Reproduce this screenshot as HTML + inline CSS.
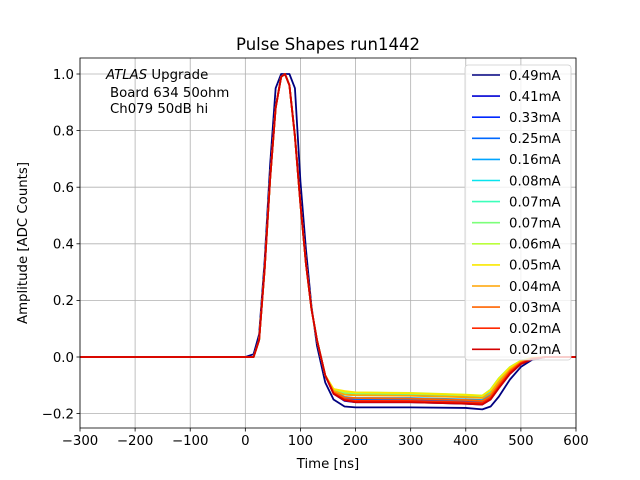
<!DOCTYPE html>
<html><head><meta charset="utf-8"><style>
body{margin:0;background:#fff}svg{display:block;font-family:"DejaVu Sans","Liberation Sans",sans-serif}
</style></head><body>
<svg id="c" width="640" height="480"></svg>
<script>
const times=[-300,0,15,25,35,45,55,65,72,80,90,100,110,120,130,145,160,180,200,300,400,430,445,460,480,500,520,545,600];
const labels=["0.49mA","0.41mA","0.33mA","0.25mA","0.16mA","0.08mA","0.07mA","0.07mA","0.06mA","0.05mA","0.04mA","0.03mA","0.02mA","0.02mA"];
const colors=["#000080","#0000d4","#0028ff","#0068ff","#00a4ff","#08e4ee","#3cffba","#7cff7a","#baff3c","#fae800","#ffa400","#ff6400","#ff2800","#d40000"];
const s0=[0,0,0.01,0.08,0.34,0.68,0.95,1.0,1.0,1.0,0.95,0.62,0.38,0.18,0.04,-0.09,-0.15,-0.175,-0.178,-0.178,-0.18,-0.185,-0.175,-0.14,-0.08,-0.035,-0.01,0,0];
const s1=[0,0,0.0,0.06,0.31,0.63,0.88,0.99,1.0,0.96,0.78,0.54,0.33,0.17,0.06,-0.065,-0.13,-0.155,-0.16,-0.16,-0.165,-0.168,-0.15,-0.11,-0.06,-0.025,-0.008,0,0];
const s2=[0,0,0.0,0.06,0.31,0.63,0.88,0.99,1.0,0.96,0.78,0.54,0.33,0.17,0.06,-0.065,-0.128,-0.15,-0.155,-0.155,-0.16,-0.163,-0.145,-0.105,-0.055,-0.022,-0.006,0,0];
const s3=[0,0,0.0,0.06,0.31,0.63,0.88,0.99,1.0,0.96,0.78,0.54,0.33,0.17,0.06,-0.065,-0.125,-0.146,-0.15,-0.15,-0.155,-0.158,-0.14,-0.1,-0.05,-0.02,-0.005,0,0];
const s4=[0,0,0.0,0.06,0.31,0.63,0.88,0.99,1.0,0.96,0.78,0.54,0.33,0.17,0.06,-0.065,-0.122,-0.141,-0.145,-0.145,-0.15,-0.152,-0.132,-0.092,-0.045,-0.018,-0.005,0,0];
const s5=[0,0,0.0,0.06,0.31,0.63,0.88,0.99,1.0,0.96,0.78,0.54,0.33,0.17,0.06,-0.065,-0.118,-0.133,-0.135,-0.135,-0.14,-0.142,-0.12,-0.08,-0.04,-0.015,-0.004,0,0];
const s6=[0,0,0.0,0.06,0.31,0.63,0.88,0.99,1.0,0.96,0.78,0.54,0.33,0.17,0.06,-0.065,-0.116,-0.128,-0.13,-0.13,-0.135,-0.138,-0.115,-0.075,-0.036,-0.013,-0.003,0,0];
const s7=[0,0,0.0,0.06,0.31,0.63,0.88,0.99,1.0,0.96,0.78,0.54,0.33,0.17,0.06,-0.065,-0.115,-0.128,-0.13,-0.13,-0.135,-0.138,-0.115,-0.075,-0.036,-0.013,-0.003,0,0];
const s8=[0,0,0.0,0.06,0.31,0.63,0.88,0.99,1.0,0.96,0.78,0.54,0.33,0.17,0.06,-0.065,-0.113,-0.123,-0.125,-0.127,-0.133,-0.136,-0.115,-0.075,-0.036,-0.013,-0.003,0,0];
const s9=[0,0,0.0,0.06,0.31,0.63,0.88,0.99,1.0,0.96,0.78,0.54,0.33,0.17,0.06,-0.065,-0.113,-0.12,-0.125,-0.128,-0.134,-0.137,-0.117,-0.077,-0.037,-0.014,-0.003,0,0];
const s10=[0,0,0.0,0.06,0.31,0.63,0.88,0.99,1.0,0.96,0.78,0.54,0.33,0.17,0.06,-0.065,-0.12,-0.133,-0.135,-0.137,-0.142,-0.145,-0.128,-0.088,-0.045,-0.017,-0.004,0,0];
const s11=[0,0,0.0,0.06,0.31,0.63,0.88,0.99,1.0,0.96,0.78,0.54,0.33,0.17,0.06,-0.065,-0.125,-0.143,-0.145,-0.147,-0.152,-0.155,-0.138,-0.098,-0.05,-0.02,-0.005,0,0];
const s12=[0,0,0.0,0.06,0.31,0.63,0.88,0.99,1.0,0.96,0.78,0.54,0.33,0.17,0.06,-0.065,-0.128,-0.15,-0.155,-0.155,-0.16,-0.162,-0.145,-0.105,-0.055,-0.022,-0.006,0,0];
const s13=[0,0,0.0,0.06,0.31,0.63,0.88,0.99,1.0,0.96,0.78,0.54,0.33,0.17,0.06,-0.065,-0.13,-0.153,-0.16,-0.16,-0.165,-0.168,-0.15,-0.11,-0.06,-0.025,-0.008,0,0];
const series=[s0,s1,s2,s3,s4,s5,s6,s7,s8,s9,s10,s11,s12,s13];
const xTicks=[-300,-200,-100,0,100,200,300,400,500,600];
const yTicks=[-0.2,0,0.2,0.4,0.6,0.8,1.0];

const L=80,R=576,T=58,B=428;
const X=v=>L+(v+300)/900*(R-L);
const Y=v=>357-v*283;
const svg=document.getElementById('c');const NS='http://www.w3.org/2000/svg';
function mk(t,a,p){const e=document.createElementNS(NS,t);for(const k in a)e.setAttribute(k,a[k]);(p||svg).appendChild(e);return e;}
function tx(x,y,s,anchor,size,name){const e=mk('text',{x:x,y:y,'text-anchor':anchor,'font-size':size,fill:'#000'});e.textContent=s;

return e;}
xTicks.forEach(v=>{const g=mk('line',{x1:X(v),x2:X(v),y1:T,y2:B,stroke:'#b0b0b0','stroke-width':0.8});


mk('line',{x1:X(v),x2:X(v),y1:B,y2:B+3.5,stroke:'#000','stroke-width':0.8});
tx(X(v),B+17,(v<0?'\u2212'+(-v):v),'middle',13.3,'x-tick-label');});
yTicks.forEach(v=>{const g=mk('line',{x1:L,x2:R,y1:Y(v),y2:Y(v),stroke:'#b0b0b0','stroke-width':0.8});


mk('line',{x1:L-3.5,x2:L,y1:Y(v),y2:Y(v),stroke:'#000','stroke-width':0.8});
tx(L-6,Y(v)+4.8,(v<0?'\u2212':'')+Math.abs(v).toFixed(1),'end',13.3,'y-tick-label');});
const clip=mk('clipPath',{id:'cp'});mk('rect',{x:L,y:T,width:R-L,height:B-T},clip);
series.forEach((s,i)=>{const p=mk('polyline',{points:s.map((v,j)=>X(times[j])+','+Y(v)).join(' '),fill:'none',stroke:colors[i],'stroke-width':1.8,'stroke-linejoin':'round','clip-path':'url(#cp)'});

});
const fr=mk('rect',{x:L,y:T,width:R-L,height:B-T,fill:'none',stroke:'#000','stroke-width':0.8});


tx(328,50,'Pulse Shapes run1442','middle',16.5,'chart-title');
tx(328,468,'Time [ns]','middle',13.3,'x-axis-title');
const yt=tx(0,0,'Amplitude [ADC Counts]','middle',13.3,'y-axis-title');yt.setAttribute('transform','translate(27,243) rotate(-90)');
const a1=tx(106,79,'','start',13.3,'atlas-label');a1.innerHTML='<tspan font-style="italic">ATLAS</tspan> Upgrade';
tx(110,97,'Board 634 50ohm','start',13.3,'board-label');
tx(110,113,'Ch079 50dB hi','start',13.3,'channel-label');
const lg=mk('rect',{x:465,y:65,width:106,height:295,rx:3,fill:'#fff','fill-opacity':0.8,stroke:'#ccc','stroke-width':0.8});


labels.forEach((lb,i)=>{const y=75+i*21.1;
const ln=mk('line',{x1:472,x2:500,y1:y,y2:y,stroke:colors[i],'stroke-width':1.6});


tx(509,y+4.8,lb,'start',13.3,'legend-entry');});
</script></body></html>
